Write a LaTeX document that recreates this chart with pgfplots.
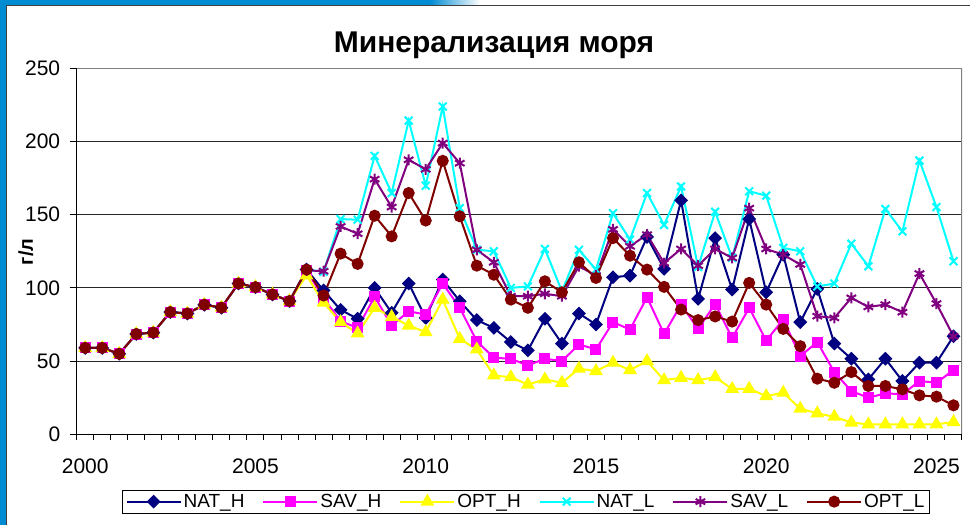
\documentclass[border=0pt]{standalone}
\usepackage{fontspec}
\setmainfont{Liberation Sans}
\usepackage{pgfplots}
\usepackage{pgfplotstable}
\pgfplotsset{compat=1.18}

\definecolor{slideblue}{RGB}{0,140,210}
\definecolor{natH}{RGB}{0,0,128}
\definecolor{savH}{RGB}{255,0,255}
\definecolor{optH}{RGB}{255,255,0}
\definecolor{natL}{RGB}{0,255,255}
\definecolor{savL}{RGB}{128,0,128}
\definecolor{optL}{RGB}{128,0,0}

% half-year steps, g/l
\pgfplotstableread{
x      nh    sh    oh    nl    sl    ol
2000.0 59    59    59    59    59    59
2000.5 59    59    59    59    59    59
2001.0 55    55    55    55    55    55
2001.5 68.5  68.5  68.5  68.5  68.5  68.5
2002.0 69.5  69.5  69.5  69.5  69.5  69.5
2002.5 83.5  83.5  83.5  83.5  83.5  83.5
2003.0 82.5  82.5  82.5  82.5  82.5  82.5
2003.5 88.5  88.5  88.5  88.5  88.5  88.5
2004.0 86.5  86.5  86.5  86.5  86.5  86.5
2004.5 103   103   103   103   103   103
2005.0 100.5 100.5 100.5 100.5 100.5 100.5
2005.5 95.5  95.5  95.5  95.5  95.5  95.5
2006.0 91    91    91    91    91    91
2006.5 112.5 112   108.5 112.5 112   112.5
2007.0 98.3  93    90    111   111.4 94.8
2007.5 85    77.3  76.6  147   142   123.4
2008.0 78.9  72.7  68.9  146.6 137   116.4
2008.5 100   93.9  86.4  190.2 174.3 149.3
2009.0 83    74.3  80.2  164.8 155.2 135.2
2009.5 103   84    74.3  214.3 187.5 164.8
2010.0 79.5  81.8  69.8  169.8 181   146
2010.5 105.7 103   92    223.9 198.9 186.8
2011.0 90.9  86.4  65.2  154.5 185.2 148.9
2011.5 78    63.6  58    126.1 126   115.2
2012.0 72.7  52.3  40.2  125   117.5 109
2012.5 63    51.6  39    100   94.3  92
2013.0 57.3  47    34    101   94.3  86.4
2013.5 78.9  51.6  37.5  126.6 96    104.5
2014.0 62    50    35.2  97.7  94.3  97
2014.5 82.5  61.4  44.8  126   114.8 117.5
2015.0 75    58    43.2  112.5 108.4 106.8
2015.5 107.3 76.6  48.9  151   140   134
2016.0 108.4 71.6  43.9  133   128.4 122
2016.5 134.8 93.6  50    164.8 136.4 112.5
2017.0 113   68.6  37    143   117   100.7
2017.5 159.8 88.6  38.6  169.3 126.6 85.2
2018.0 92.5  72    37    114.3 115.2 78
2018.5 134   89    39    152   126.6 80.5
2019.0 98.9  65.9  31    120.5 120.5 77
2019.5 147   86.4  31.1  166   154.5 103.4
2020.0 97    64    26.1  163   126.6 88.6
2020.5 122.7 78.4  28.4  127.3 122.7 72
2021.0 76.6  53.4  17.5  125   116   60.2
2021.5 99.3  63    14.3  101   80.7  38
2022.0 62    42.5  12    103   79.5  35.2
2022.5 51.6  29.5  8     130.2 93.2  42.5
2023.0 37.5  25    6.8   114.8 87    33
2023.5 51.6  28    6.8   153.9 88.6  33
2024.0 36.4  27.3  6.8   138.6 83.4  30.7
2024.5 48.9  36.4  6.8   187   109.8 26.6
2025.0 48.9  35.2  6.8   155.2 89.3  25.7
2025.5 67    43.9  8.4   118.2 67    19.8
}\mineral

\begin{document}
\begin{tikzpicture}[x=1pt,y=1pt]
\useasboundingbox (0,0) rectangle (970,525);
\fill[white] (0,0) rectangle (970,525);
\fill[slideblue] (0,0) rectangle (6,525);
\fill[slideblue] (0,520) rectangle (430,525);
\shade[left color=slideblue, right color=white] (430,520) rectangle (480,525);
\draw[black!75, line width=1pt] (6.5,0) -- (6.5,519.5) -- (970,519.5);

\begin{axis}[
    at={(76.7pt,90.7pt)}, anchor=south west,
    scale only axis, width=885.3pt, height=366pt,
    xmin=1999.75, xmax=2025.75, ymin=0, ymax=250,
    axis x line*=bottom, axis y line*=left,
    axis line style={black, line width=1pt},
    xtick={2000,2005,...,2025},
    minor xtick={1999.75,2000.25,...,2025.75},
    ytick={0,50,...,250},
    tick align=outside,
    major tick length=7pt, minor tick length=6pt,
    major x tick style={draw=none},
    tick style={black, line width=0.9pt},
    ymajorgrids,
    major grid style={black!85, line width=0.9pt},
    /pgf/number format/1000 sep={},
    /pgf/number format/assume math mode=true,
    tick label style={font=\fontsize{21}{25}\selectfont},
    xticklabel style={yshift=-14pt},
    yticklabel style={xshift=-6pt},
    title={Минерализация моря},
    title style={font=\fontsize{30}{36}\selectfont\bfseries, at={(axis description cs:0.4714,1.047)}, anchor=center},
    ylabel={г/л},
    ylabel style={font=\fontsize{20}{24}\selectfont\bfseries, at={(axis description cs:-0.0575,0.498)}, anchor=center},
    legend image code/.code={\draw[mark repeat=2,mark phase=2,#1] plot coordinates {(0pt,0pt) (27pt,0pt) (54pt,0pt)};},
    legend style={at={(axis description cs:0.5075,-0.184)}, anchor=center,
        legend columns=6, draw=black, line width=0.9pt,
        font=\fontsize{19}{23}\selectfont,
        /tikz/every even column/.append style={column sep=16pt}},
]
\addplot[natH, line width=2pt, mark=square*, mark size=3.9pt, mark options={rotate=45}] table[x=x,y=nh]{\mineral};
\addplot[savH, line width=2pt, mark=square*, mark size=4.5pt] table[x=x,y=sh]{\mineral};
\addplot[optH, line width=2pt, mark=triangle*, mark size=6pt] table[x=x,y=oh]{\mineral};
\addplot[natL, line width=2pt, mark=x, mark size=5.5pt] table[x=x,y=nl]{\mineral};
\addplot[savL, line width=2pt, mark=asterisk, mark size=5.5pt] table[x=x,y=sl]{\mineral};
\addplot[optL, line width=2pt, mark=*, mark size=5pt] table[x=x,y=ol]{\mineral};
\legend{NAT\_H, SAV\_H, OPT\_H, NAT\_L, SAV\_L, OPT\_L}
\draw[gray, line width=1.6pt] (rel axis cs:0,1) -- (rel axis cs:1,1) -- (rel axis cs:1,0);
\end{axis}
\end{tikzpicture}
\end{document}
